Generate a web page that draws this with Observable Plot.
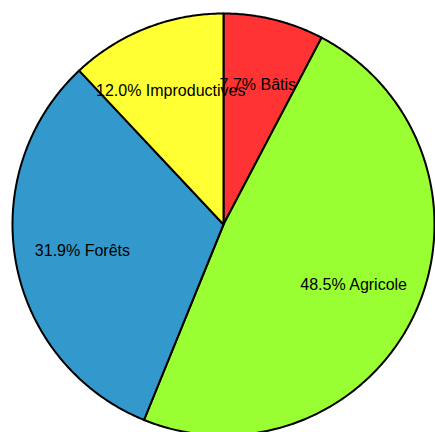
<!DOCTYPE html>
<html>
<head>
<meta charset="utf-8">
<script src="https://cdn.jsdelivr.net/npm/d3@7"></script>
<script src="https://cdn.jsdelivr.net/npm/@observablehq/plot@0.6"></script>
<style>
  html, body { margin: 0; padding: 0; background: #fff; }
</style>
</head>
<body>
<div id="chart"></div>
<script>
const categories = ["Bâtis", "Agricole", "Forêts", "Improductives"];
const values = [7.7, 48.5, 31.9, 12.0];
const colors = ["#ff3333", "#99ff33", "#3399cc", "#ffff33"];

const W = 435, H = 432;
const cx = 223, cy = 224, R = 211;

const pie = d3.pie().sort(null).value(d => d.value);
const arcs = pie(categories.map((name, i) => ({name, value: values[i]})));

// polygon points for each slice in unit coordinates
const pts = [];
for (const a of arcs) {
  const name = a.data.name;
  pts.push({name, x: 0, y: 0});
  const n = Math.max(4, Math.ceil((a.endAngle - a.startAngle) / 0.01));
  for (let k = 0; k <= n; k++) {
    const t = a.startAngle + (a.endAngle - a.startAngle) * k / n;
    pts.push({name, x: Math.sin(t), y: Math.cos(t)});
  }
  pts.push({name, x: 0, y: 0});
}

const labelR = 0.68;
const labels = arcs.map(a => {
  const m = (a.startAngle + a.endAngle) / 2;
  return {name: a.data.name, x: labelR * Math.sin(m), y: labelR * Math.cos(m),
          text: `${a.data.value.toFixed(1)}% ${a.data.name}`};
});

const chart = Plot.plot({
  width: W,
  height: H,
  margin: 0,
  x: {domain: [-1, 1], range: [cx - R, cx + R], axis: null},
  y: {domain: [-1, 1], range: [cy + R, cy - R], axis: null},
  color: {domain: categories, range: colors},
  style: {fontFamily: "Liberation Sans, Arial, sans-serif", background: "white"},
  marks: [
    Plot.line(pts, {x: "x", y: "y", z: "name", fill: "name", stroke: "black",
      strokeWidth: 2, strokeLinejoin: "round", curve: "linear-closed"}),
    Plot.text(labels, {x: "x", y: "y", text: "text", fill: "black", fontSize: 16})
  ]
});
document.getElementById("chart").appendChild(chart);
</script>
</body>
</html>
